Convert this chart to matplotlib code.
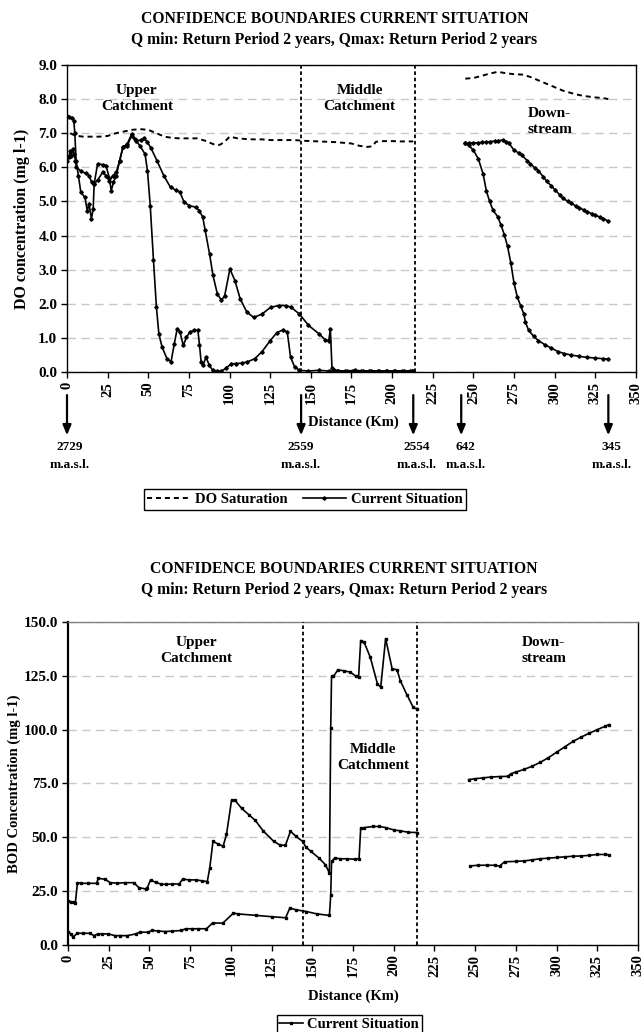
import numpy as np
import matplotlib
matplotlib.use("Agg")
import matplotlib.pyplot as plt
from matplotlib.lines import Line2D
from matplotlib.transforms import blended_transform_factory

plt.rcParams['font.family'] = ['Liberation Serif', 'DejaVu Serif']
plt.rcParams['font.weight'] = 'bold'

# ---- DO chart data ----
sat_up_x = [2, 5, 10, 15, 20, 25, 30, 35, 40, 45, 50, 55, 60, 65, 70, 75, 80, 85, 88, 91,
            94, 97, 100, 105, 110, 115, 120, 125, 130, 135, 140, 145, 150, 155, 160, 165,
            170, 175, 180, 185, 188, 190, 195, 200, 205, 210, 213]
sat_up_y = [7.0, 6.93, 6.9, 6.9, 6.9, 6.92, 7.0, 7.05, 7.1, 7.12, 7.1, 7.0, 6.9, 6.86, 6.85,
            6.85, 6.85, 6.78, 6.72, 6.66, 6.66, 6.75, 6.9, 6.85, 6.83, 6.82, 6.82, 6.8, 6.8,
            6.8, 6.8, 6.78, 6.77, 6.76, 6.75, 6.74, 6.72, 6.7, 6.63, 6.6, 6.62, 6.75, 6.77,
            6.77, 6.76, 6.76, 6.76]
sat_dn_x = [245, 250, 255, 260, 265, 270, 275, 280, 285, 290, 295, 300, 305, 310, 315, 320,
            325, 330, 333]
sat_dn_y = [8.6, 8.62, 8.68, 8.75, 8.8, 8.76, 8.73, 8.72, 8.65, 8.55, 8.45, 8.35, 8.25,
            8.18, 8.12, 8.08, 8.05, 8.03, 8.0]

do_lo_x = [0, 1.5, 3, 4.2, 4.8, 5.6, 7, 8.5, 11, 12.5, 13.6, 15, 16.1, 16.7, 18.8, 22, 24,
           26, 27.2, 28.6, 30.3, 32.4, 34.4, 37, 39.7, 41.8, 44.9, 48, 49.5, 51.2, 53.2, 55,
           56.5, 58.5, 61.5, 64, 66, 67.8, 69.5, 71.5, 73.5, 75.5, 78, 80.5, 81.5, 82.5,
           83.7, 85.5, 87.5, 89.6, 92, 95, 98, 101, 104, 107.5, 111, 115.5, 120, 125, 129,
           133, 135.5, 137.5, 140, 143, 148.5, 155, 161, 166, 171, 176, 181, 186, 191, 196,
           201, 206, 211, 213]
do_lo_y = [7.5, 7.48, 7.46, 7.37, 7.0, 6.2, 5.76, 5.27, 5.12, 4.73, 4.93, 4.49, 4.78, 5.51,
           6.1, 6.08, 6.05, 5.7, 5.32, 5.56, 5.76, 6.2, 6.59, 6.68, 6.97, 6.83, 6.63, 6.39,
           5.9, 4.88, 3.27, 1.9, 1.12, 0.73, 0.39, 0.3, 0.83, 1.27, 1.17, 0.78, 1.02, 1.17,
           1.22, 1.22, 0.8, 0.29, 0.2, 0.44, 0.2, 0.05, 0.02, 0.03, 0.12, 0.24, 0.25, 0.26,
           0.3, 0.39, 0.6, 0.92, 1.15, 1.24, 1.17, 0.44, 0.15, 0.05, 0.03, 0.05, 0.03, 0.03,
           0.03, 0.02, 0.03, 0.03, 0.02, 0.03, 0.03, 0.02, 0.03, 0.03]
do_hi_x = [0, 1, 2.1, 2.7, 3.5, 4.4, 5.2, 5.8, 8.4, 11.5, 13.6, 15.2, 16.7, 18.8, 21.9, 24,
           26.1, 28.2, 30.3, 32.4, 34.4, 37, 39.7, 42.4, 45.3, 47.4, 49.5, 51.6, 55.3, 59.5,
           63.7, 66.8, 69.5, 72, 75.2, 79.3, 81.4, 83.5, 85, 87.7, 89.8, 92.5, 95, 97, 100.2,
           103.3, 106.5, 110.6, 114.8, 120, 125.3, 130.5, 134.7, 137.8, 143, 148.5, 155,
           158.7, 161, 162, 163, 164, 167, 172, 177, 182, 187, 192, 197, 202, 207, 212]
do_hi_y = [6.2, 6.3, 6.49, 6.34, 6.54, 6.39, 6.2, 6.0, 5.9, 5.82, 5.76, 5.56, 5.51, 5.63,
           5.85, 5.76, 5.6, 5.76, 5.85, 6.2, 6.59, 6.63, 6.93, 6.78, 6.8, 6.86, 6.73, 6.57,
           6.2, 5.76, 5.41, 5.34, 5.27, 4.98, 4.88, 4.83, 4.73, 4.54, 4.15, 3.46, 2.83, 2.29,
           2.1, 2.24, 3.02, 2.68, 2.15, 1.76, 1.6, 1.7, 1.9, 1.95, 1.95, 1.9, 1.7, 1.37,
           1.12, 0.95, 0.92, 1.25, 0.12, 0.05, 0.04, 0.03, 0.05, 0.03, 0.04, 0.03, 0.03,
           0.04, 0.03, 0.03]
do_dn_hi_x = [245, 247, 250, 253, 255, 258, 260, 263, 265, 268, 270, 272, 275, 278, 280, 283,
              285, 288, 290, 293, 295, 298, 300, 303, 305, 308, 310, 313, 315, 318, 320, 323,
              325, 328, 330, 333]
do_dn_hi_y = [6.7, 6.7, 6.72, 6.72, 6.73, 6.74, 6.75, 6.77, 6.78, 6.8, 6.75, 6.7, 6.5, 6.42,
              6.35, 6.2, 6.1, 5.98, 5.9, 5.72, 5.6, 5.45, 5.35, 5.2, 5.1, 5.0, 4.95, 4.87,
              4.82, 4.75, 4.7, 4.64, 4.6, 4.54, 4.5, 4.42]
do_dn_lo_x = [245, 247, 250, 253, 256, 258, 260, 262, 265, 267, 269, 271, 273, 275, 277, 279,
              281, 282, 284, 287, 290, 294, 298, 302, 306, 310, 315, 320, 325, 330, 333]
do_dn_lo_y = [6.7, 6.65, 6.5, 6.25, 5.8, 5.3, 5.0, 4.75, 4.55, 4.3, 4.03, 3.68, 3.2, 2.6,
              2.2, 1.95, 1.7, 1.46, 1.22, 1.05, 0.92, 0.8, 0.7, 0.6, 0.54, 0.5, 0.46, 0.43,
              0.41, 0.39, 0.38]

# elevation markers
elev_x = [0, 144, 213, 242.5, 333]
elev_label_x = [1.5, 144, 215, 245, 335]
elev_labels = ['2729', '2559', '2554', '642', '345']

# ---- BOD chart data ----
bod_hi_x = [0, 2, 3.5, 4.5, 5.8, 8, 12, 17.5, 18.6, 22.8, 25.9, 30, 35, 40.4, 43.5, 47.6,
            48.7, 50.7, 53.8, 57, 60, 64, 68.3, 70.4, 74, 78.7, 82, 85.5, 87, 89, 92, 95.2,
            97.3, 100.4, 102.5, 106.6, 111, 115, 120, 126.3, 130.4, 133.5, 136.6, 139.8, 144,
            146, 149, 154, 158, 160.5, 161.3, 161.8, 163, 165.7, 169.5, 173.3, 177, 178.4,
            179.7, 181.8, 185.6, 190, 192, 195, 199, 202, 204, 208, 212, 214.3]
bod_hi_y = [20.5, 20, 19.7, 19.5, 28.9, 28.6, 28.6, 28.6, 30.9, 30.5, 28.9, 28.7, 28.9, 28.9,
            26.6, 26, 26.6, 30.2, 29, 28.3, 28.1, 28.3, 28.3, 30.6, 30.2, 30.2, 29.8, 29.4,
            35.6, 48.1, 46.9, 45.8, 51.3, 67.2, 67.2, 63.4, 60.5, 57.8, 52.8, 48.1, 46.3,
            46.3, 52.8, 50.5, 48.1, 45.5, 43.5, 40.4, 37.3, 33.4, 100.8, 124.7, 124.7, 127.8,
            127.3, 126.7, 124.7, 124.4, 141.4, 140.6, 133.6, 121.2, 119.7, 142.3, 128.3,
            127.8, 122.8, 116.3, 110.3, 109.5]
bod_lo_x = [0, 1.8, 3, 5.6, 9, 13.3, 15.9, 18.4, 21, 24.8, 28.7, 32, 36.4, 41.5, 44, 49,
            51.7, 55, 59.4, 64, 69.6, 72.2, 76, 80, 85, 88.8, 95, 101.6, 104.2, 115.7, 125,
            133.6, 136.2, 140, 146.4, 152.8, 160.5, 161.3, 161.8, 163.8, 167, 171, 176, 178.7,
            179.7, 182, 187.4, 191, 195, 200, 204, 209, 214.3]
bod_lo_y = [5.9, 5.1, 3.6, 5.4, 5.4, 5.4, 4.3, 5.1, 5.1, 5.1, 4.3, 4.3, 4.3, 5.1, 5.9, 5.9,
            6.7, 6.5, 6.2, 6.4, 6.7, 7.5, 7.5, 7.5, 7.5, 10.2, 10.1, 14.8, 14.4, 13.7, 13.1,
            12.6, 17.1, 16.3, 15.5, 14.4, 13.7, 23, 38.8, 40.4, 40, 40, 39.8, 40.1, 54.2,
            54.5, 55, 55, 54.5, 53.4, 53, 52.3, 52.2]
bod_dn_hi_x = [246, 250, 255, 260, 265, 270, 272, 275, 280, 285, 290, 295, 300, 305, 310, 315,
               320, 325, 330, 332]
bod_dn_hi_y = [76.8, 77.2, 77.6, 78, 78.2, 78.3, 79.5, 80.3, 81.5, 83, 84.8, 87, 89.5, 92,
               94.5, 96.5, 98.3, 100, 101.6, 102.3]
bod_dn_lo_x = [247, 252, 257, 262, 265, 268, 275, 280, 285, 290, 295, 300, 305, 310, 315, 320,
               325, 330, 332]
bod_dn_lo_y = [36.7, 37, 37, 37, 36.6, 38.6, 38.8, 39, 39.5, 40, 40.3, 40.6, 40.9, 41.2, 41.3,
               41.6, 42, 42, 41.8]

zone_bounds = [144, 214]
x_ticks = list(range(0, 351, 25))

TITLE1 = 'CONFIDENCE BOUNDARIES CURRENT SITUATION'
TITLE2 = 'Q min: Return Period 2 years, Qmax: Return Period 2 years'

fig = plt.figure(figsize=(6.43, 10.32), dpi=100)

grid_kw = dict(color='#c8c8c8', linestyle=(0, (6, 4)), linewidth=1.0)
cur_kw = dict(color='black', linewidth=1.2, marker='D', markersize=1.8)
sat_kw = dict(color='black', linewidth=1.4, linestyle=(0, (2.6, 2)))


def style_axes(ax, ymax, ystep):
    ax.set_xlim(0, 350)
    ax.set_ylim(0, ymax)
    ax.set_xticks(x_ticks)
    ax.set_xticklabels([str(t) for t in x_ticks], rotation=90, fontsize=10.5, fontweight='bold')
    yt = np.arange(0, ymax + 0.01, ystep)
    ax.set_yticks(yt)
    ax.set_yticklabels([f'{v:.1f}' for v in yt], fontsize=11, fontweight='bold')
    ax.tick_params(direction='out', length=4, width=1, pad=3)
    ax.yaxis.grid(True, **grid_kw)
    ax.set_axisbelow(True)
    for s in ax.spines.values():
        s.set_color('black')
        s.set_linewidth(1.0)
    for xb in zone_bounds:
        ax.axvline(xb, color='black', linestyle=(0, (2, 1.5)), linewidth=1.3, zorder=3)


# ===== top: DO =====
ax1 = fig.add_axes([0.1042, 0.6395, 0.8849, 0.2975])
style_axes(ax1, 9, 1)
ax1.plot(sat_up_x, sat_up_y, **sat_kw)
ax1.plot(sat_dn_x, sat_dn_y, **sat_kw)
ax1.plot(do_lo_x, do_lo_y, **cur_kw)
ax1.plot(do_hi_x, do_hi_y, **cur_kw)
ax1.plot(do_dn_hi_x, do_dn_hi_y, **cur_kw)
ax1.plot(do_dn_lo_x, do_dn_lo_y, **cur_kw)
ax1.set_ylabel('DO concentration (mg l-1)', fontsize=11.5, fontweight='bold', labelpad=6)

txt_kw = dict(ha='center', va='center', fontsize=11, fontweight='bold', linespacing=1.3)
ax1.text(43, 8.03, 'Upper\nCatchment', **txt_kw)
ax1.text(180, 8.03, 'Middle\nCatchment', **txt_kw)
ax1.text(297, 7.33, 'Down-\nstream', **txt_kw)

trans = blended_transform_factory(ax1.transData, ax1.transAxes)
for xa, xl, lab in zip(elev_x, elev_label_x, elev_labels):
    ax1.annotate('', xy=(xa, -0.215), xytext=(xa, -0.066), xycoords=trans, textcoords=trans,
                 annotation_clip=False,
                 arrowprops=dict(arrowstyle='-|>,head_width=0.25,head_length=0.6',
                                 color='black', lw=1.6))
    ax1.text(xl, -0.245, lab, transform=trans, ha='center', va='center',
             fontsize=9.5, fontweight='bold')
    ax1.text(xl, -0.303, 'm.a.s.l.', transform=trans, ha='center', va='center',
             fontsize=9.5, fontweight='bold')
ax1.text(176, -0.163, 'Distance (Km)', transform=trans, ha='center', va='center',
         fontsize=10.5, fontweight='bold')

fig.text(0.52, 0.9820, TITLE1, ha='center', va='center', fontsize=11.3, fontweight='bold')
fig.text(0.52, 0.9617, TITLE2, ha='center', va='center', fontsize=11.3, fontweight='bold')

h_sat = Line2D([], [], **sat_kw)
h_cur = Line2D([], [], **cur_kw)
fig.legend([h_sat, h_cur], ['DO Saturation', 'Current Situation'], loc='center',
           bbox_to_anchor=(0.474, 0.5160), ncol=2, frameon=True, fancybox=False,
           edgecolor='black', framealpha=1, borderpad=0.25, handlelength=3,
           handletextpad=0.3, columnspacing=1.0,
           prop={'size': 10.5, 'weight': 'bold'})

# ===== bottom: BOD =====
ax2 = fig.add_axes([0.1058, 0.0844, 0.8865, 0.3129])
style_axes(ax2, 150, 25)
ax2.spines['top'].set_color('#808080')
ax2.spines['left'].set_linewidth(1.6)
bod_kw = dict(color='black', linewidth=1.2, marker='s', markersize=1.8)
ax2.plot(bod_hi_x, bod_hi_y, **bod_kw)
ax2.plot(bod_lo_x, bod_lo_y, **bod_kw)
ax2.plot(bod_dn_hi_x, bod_dn_hi_y, **bod_kw)
ax2.plot(bod_dn_lo_x, bod_dn_lo_y, **bod_kw)
ax2.set_ylabel('BOD Concentration (mg l-1)', fontsize=10.5, fontweight='bold', labelpad=2)
ax2.set_xlabel('Distance (Km)', fontsize=10.5, fontweight='bold', labelpad=9)

ax2.text(78.6, 136.7, 'Upper\nCatchment', **txt_kw)
ax2.text(187.4, 86.9, 'Middle\nCatchment', **txt_kw)
ax2.text(292, 136.7, 'Down-\nstream', **txt_kw)

fig.text(0.535, 0.4486, TITLE1, ha='center', va='center', fontsize=11.3, fontweight='bold')
fig.text(0.535, 0.4283, TITLE2, ha='center', va='center', fontsize=11.3, fontweight='bold')

h_bod = Line2D([], [], **bod_kw)
fig.legend([h_bod], ['Current Situation'], loc='upper center',
           bbox_to_anchor=(0.543, 0.0235), frameon=True, fancybox=False,
           edgecolor='black', framealpha=1, borderpad=0.2, handlelength=1.6,
           handletextpad=0.3, prop={'size': 10.5, 'weight': 'bold'})

fig.savefig('out.png', dpi=100)
